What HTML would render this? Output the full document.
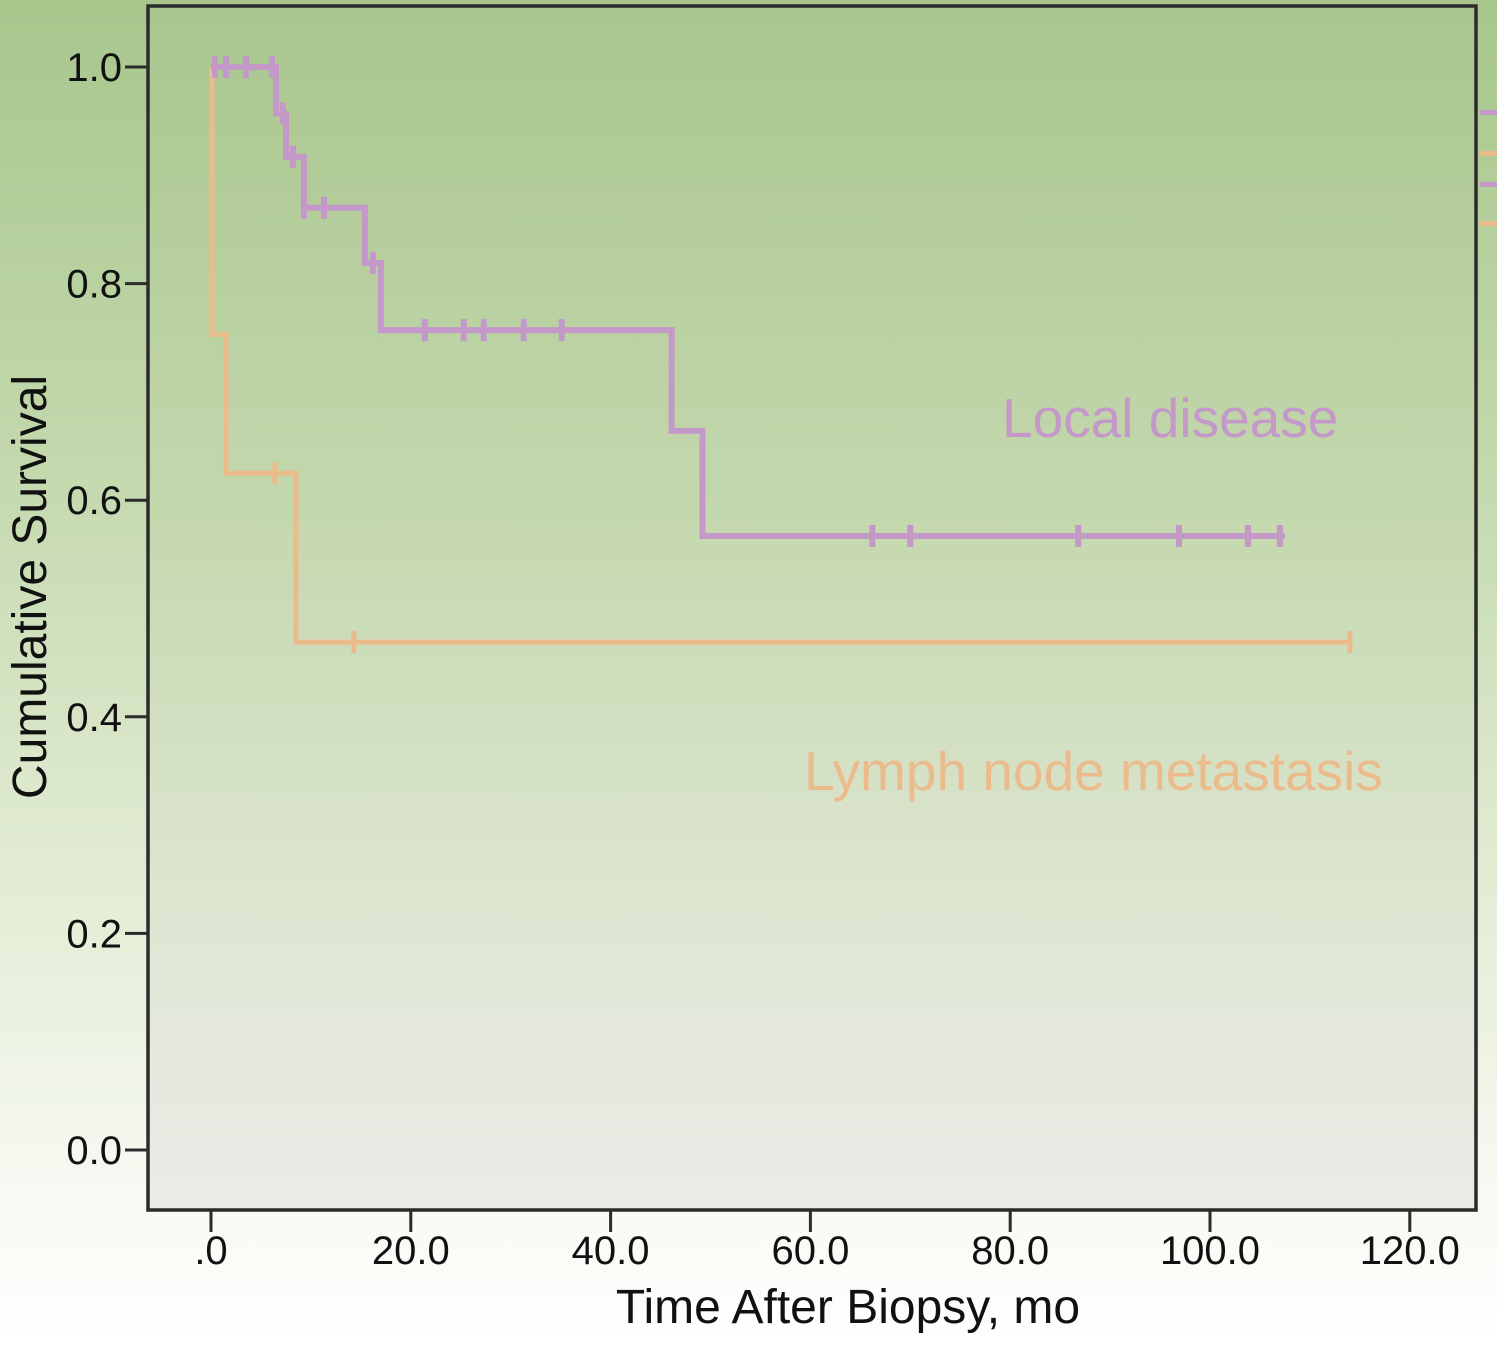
<!DOCTYPE html>
<html><head><meta charset="utf-8"><style>
html,body{margin:0;padding:0;}
body{width:1497px;height:1347px;overflow:hidden;background:linear-gradient(to bottom,#a8c68c 0%,#c4d9ae 35%,#e2ecd4 65%,#f7f9f2 88%,#ffffff 100%);font-family:"Liberation Sans",sans-serif;}
svg{display:block;}
</style></head><body>
<svg width="1497" height="1347" xmlns="http://www.w3.org/2000/svg">
<defs><linearGradient id="pg" x1="0" y1="0" x2="0" y2="1">
<stop offset="0" stop-color="#a9c68e"/><stop offset="0.45" stop-color="#c6d9b0"/><stop offset="0.75" stop-color="#dee6d2"/><stop offset="1" stop-color="#ebebe8"/></linearGradient></defs>
<rect x="148" y="6" width="1328" height="1204" fill="url(#pg)"/>
<g id="axes"></g>
<g id="series"></g>
<rect x="148" y="6" width="1328" height="1204" fill="none" stroke="#2b2b2b" stroke-width="3.5"/>
<rect x="1480" y="110" width="17" height="5" fill="#c498c8"/>
<rect x="1480" y="151" width="17" height="5" fill="#ecbb8c"/>
<rect x="1480" y="182" width="17" height="5" fill="#c498c8"/>
<rect x="1480" y="221" width="17" height="5" fill="#ecbb8c"/>
<text x="1002" y="437" font-size="55" fill="#c498c8">Local disease</text>
<text x="804" y="790" font-size="55" fill="#ecbb8c">Lymph node metastasis</text>
<text x="848" y="1323" font-size="48" text-anchor="middle" fill="#111">Time After Biopsy, mo</text>
<text transform="translate(46,587) rotate(-90)" font-size="48" text-anchor="middle" fill="#111">Cumulative Survival</text>
</svg>
<script>
const xTicks=[0,20,40,60,80,100,120];
const xTickLabels=[".0","20.0","40.0","60.0","80.0","100.0","120.0"];
const yTicks=[0,0.2,0.4,0.6,0.8,1.0];
const yTickLabels=["0.0","0.2","0.4","0.6","0.8","1.0"];
const localTimes=[0,6.5,7.5,9.3,15.4,17,46.1,49.2,107.5];
const localSurv=[1.0,0.957,0.917,0.87,0.819,0.757,0.664,0.567,0.567];
const localCensT=[0.4,1.5,3.5,6.1,7.2,8.2,9.3,11.3,16.2,21.4,25.3,27.3,31.3,35.1,66.2,70,86.8,96.9,103.8,107];
const lymphTimes=[0,0.1,1.5,8.5,114];
const lymphSurv=[1.0,0.753,0.625,0.469,0.469];
const lymphCensT=[6.4,14.3,114];
const X=t=>211+t*9.99, Y=s=>1150-s*1083;
const NS="http://www.w3.org/2000/svg";
const ax=document.getElementById('axes'), se=document.getElementById('series');
function mk(tag,attrs,parent){const e=document.createElementNS(NS,tag);for(const k in attrs)e.setAttribute(k,attrs[k]);parent.appendChild(e);return e;}
xTicks.forEach((v,i)=>{
 const l=mk('line',{x1:X(v),x2:X(v),y1:1210,y2:1232,stroke:'#2b2b2b','stroke-width':3},ax);
 
 
 const t=mk('text',{x:X(v),y:1264,'font-size':40,'text-anchor':'middle',fill:'#111'},ax);
 t.textContent=xTickLabels[i];
 
 
});
yTicks.forEach((v,i)=>{
 const l=mk('line',{x1:125,x2:148,y1:Y(v),y2:Y(v),stroke:'#2b2b2b','stroke-width':3},ax);
 
 
 const t=mk('text',{x:122,y:Y(v)+14,'font-size':40,'text-anchor':'end',fill:'#111'},ax);
 t.textContent=yTickLabels[i];
 
 
});
function stepPath(T,S){let d='M'+X(T[0])+' '+Y(S[0]);for(let i=1;i<T.length;i++){d+=' H'+X(T[i])+' V'+Y(S[i]);}return d;}
function survAt(T,S,t){let s=S[0];for(let i=0;i<T.length;i++){if(T[i]<=t)s=S[i];}return s;}
function draw(T,S,C,col,w,name){
 const p=mk('path',{d:stepPath(T,S),fill:'none',stroke:col,'stroke-width':w},se);
 
 
 C.forEach(t=>{const y=Y(survAt(T,S,t));
  const c=mk('line',{x1:X(t),x2:X(t),y1:y-11,y2:y+11,stroke:col,'stroke-width':w},se);
  
  });
}
draw(lymphTimes,lymphSurv,lymphCensT,'#ecbb8c',5,'lymph-node');
draw(localTimes,localSurv,localCensT,'#c498c8',6,'local-disease');
</script>
</body></html>
